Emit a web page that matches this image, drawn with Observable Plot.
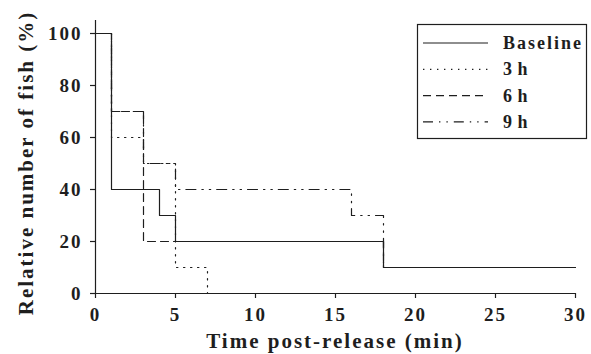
<!DOCTYPE html>
<html>
<head>
<meta charset="utf-8">
<script src="https://cdn.jsdelivr.net/npm/d3@7"></script>
<script src="https://cdn.jsdelivr.net/npm/@observablehq/plot@0.6"></script>
<style>
  html, body { margin: 0; padding: 0; background: #fff; }
  #chart { position: relative; width: 591px; height: 354px; }
  #chart svg, #chart svg text { font-family: "Liberation Serif", "Tinos", "Times New Roman", "DejaVu Serif", serif !important; font-weight: bold; letter-spacing: 2px; }
</style>
</head>
<body>
<div id="chart"></div>
<script>
// ---- data ----
const seriesNames = ["Baseline", "3 h", "6 h", "9 h"];
const baselineX = [0, 1, 4, 5, 18, 30];
const baselineY = [100, 40, 30, 20, 10, 10];
const h3X = [0, 1, 3, 5, 7];
const h3Y = [100, 60, 50, 10, 0];
const h6X = [0, 1, 3, 18, 30];
const h6Y = [100, 70, 20, 10, 10];
const h9X = [0, 1, 3, 5, 16, 18, 30];
const h9Y = [100, 70, 50, 40, 30, 10, 10];
const xTicks = [0, 5, 10, 15, 20, 25, 30];
const yTicks = [0, 20, 40, 60, 80, 100];
const xTitle = "Time post-release (min)";
const yTitle = "Relative number of fish (%)";

// ---- styles ----
const dashes = ["none", "1.4,5.6", "8,5", "10,6,1.4,6,1.4,6"];
const ink = "#1e1e1e";

const toRows = (xs, ys, name) => xs.map((x, i) => ({x, y: ys[i], name}));
const series = [
  toRows(baselineX, baselineY, seriesNames[0]),
  toRows(h3X, h3Y, seriesNames[1]),
  toRows(h6X, h6Y, seriesNames[2]),
  toRows(h9X, h9Y, seriesNames[3])
];

const lineMarks = series.map((rows, i) =>
  Plot.line(rows, {x: "x", y: "y", curve: "step-after", stroke: ink,
    strokeWidth: 1.2, strokeDasharray: dashes[i] === "none" ? null : dashes[i]}));

const plot = Plot.plot({
  width: 591,
  height: 354,
  marginLeft: 95,
  marginRight: 16,
  marginTop: 20,
  marginBottom: 61,
  x: {domain: [0, 30]},
  y: {domain: [0, 105]},
  marks: [
    Plot.axisX({ticks: xTicks, tickSize: 5, tickPadding: 9, fontSize: 19, label: null, stroke: ink, fill: ink, strokeWidth: 1.2}),
    Plot.axisY({ticks: yTicks, tickSize: 5, tickPadding: 8, fontSize: 19, label: null, stroke: ink, fill: ink, strokeWidth: 1.2}),
    Plot.ruleX([0], {stroke: ink, strokeWidth: 1.2}),
    Plot.ruleY([0], {stroke: ink, strokeWidth: 1.2}),
    ...lineMarks
  ]
});

const svg = d3.select(plot);
const sx = plot.scale("x"), sy = plot.scale("y");

// axis titles
svg.append("text")
  .attr("x", (sx.apply(0) + sx.apply(30)) / 2)
  .attr("y", 348)
  .attr("text-anchor", "middle")
  .attr("font-size", 21)
  .attr("fill", ink)
  .text(xTitle);
svg.append("text")
  .attr("transform", `translate(33,${sy.apply(50)}) rotate(-90)`)
  .attr("text-anchor", "middle")
  .attr("font-size", 21)
  .attr("fill", ink)
  .text(yTitle);

// legend
const lg = svg.append("g");
lg.append("rect").attr("x", 417.5).attr("y", 24.5).attr("width", 169).attr("height", 114)
  .attr("fill", "#fff").attr("stroke", ink).attr("stroke-width", 1.2);
seriesNames.forEach((name, i) => {
  const yy = 43 + i * 26.3;
  lg.append("line").attr("x1", 423).attr("x2", 488).attr("y1", yy).attr("y2", yy)
    .attr("stroke", ink).attr("stroke-width", 1.2)
    .attr("stroke-dasharray", dashes[i] === "none" ? null : dashes[i]);
  lg.append("text").attr("x", 503).attr("y", yy + 6).attr("font-size", 18)
    .attr("text-anchor", "start")
    .attr("fill", ink).style("word-spacing", "-3px").text(name);
});

document.getElementById("chart").appendChild(plot);
</script>
</body>
</html>
